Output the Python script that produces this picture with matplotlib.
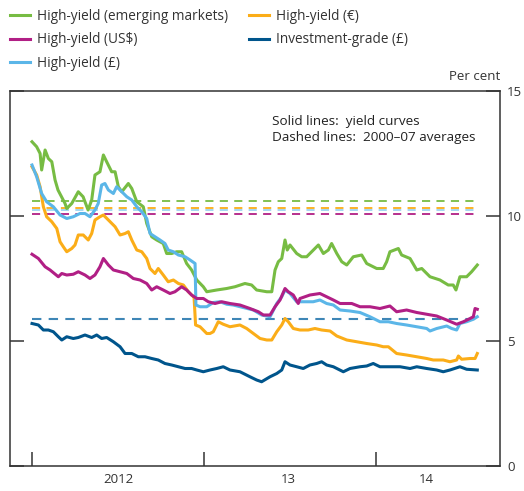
import matplotlib
matplotlib.use("Agg")
import matplotlib.pyplot as plt
import numpy as np

plt.rcParams['font.family'] = ['Open Sans', 'DejaVu Sans']

# dates as years since start of 2012, yields in per cent
em_t = [0.000, 0.027, 0.047, 0.056, 0.076, 0.095, 0.115, 0.134, 0.151, 0.192, 0.202, 0.231,
        0.269, 0.297, 0.326, 0.347, 0.366, 0.395, 0.415, 0.434, 0.463, 0.483, 0.502, 0.522,
        0.560, 0.580, 0.609, 0.647, 0.667, 0.696, 0.725, 0.763, 0.783, 0.812, 0.841, 0.870,
        0.899, 0.928, 0.958, 0.996, 1.016, 1.074, 1.132, 1.180, 1.238, 1.277, 1.306, 1.365,
        1.394, 1.413, 1.432, 1.452, 1.471, 1.484, 1.500, 1.539, 1.568, 1.597, 1.626, 1.665,
        1.694, 1.723, 1.742, 1.772, 1.801, 1.830, 1.868, 1.917, 1.946, 2.004, 2.042, 2.062,
        2.081, 2.130, 2.149, 2.198, 2.237, 2.266, 2.314, 2.372, 2.420, 2.449, 2.465, 2.488,
        2.527, 2.556, 2.589]
em_y = [12.97, 12.77, 12.5, 11.84, 12.64, 12.3, 12.17, 11.44, 11.04, 10.5, 10.3, 10.5,
        10.97, 10.77, 10.24, 10.64, 11.64, 11.77, 12.44, 12.17, 11.77, 11.77, 11.17, 10.97,
        11.3, 11.1, 10.57, 10.37, 9.7, 9.17, 9.04, 8.9, 8.5, 8.5, 8.57, 8.57,
        8.1, 7.84, 7.44, 7.17, 6.97, 7.04, 7.1, 7.17, 7.3, 7.24, 7.04, 6.97,
        6.97, 7.84, 8.17, 8.3, 9.04, 8.64, 8.84, 8.5, 8.37, 8.37, 8.57, 8.84,
        8.5, 8.64, 8.9, 8.5, 8.17, 8.04, 8.37, 8.44, 8.1, 7.9, 7.9, 8.17,
        8.57, 8.7, 8.44, 8.3, 7.84, 7.9, 7.57, 7.44, 7.24, 7.24, 7.04, 7.57,
        7.57, 7.77, 8.04]

us_t = [0.000, 0.037, 0.076, 0.105, 0.153, 0.173, 0.202, 0.240, 0.269, 0.308, 0.337, 0.366,
        0.395, 0.415, 0.444, 0.473, 0.512, 0.551, 0.589, 0.628, 0.667, 0.696, 0.725, 0.763,
        0.802, 0.831, 0.870, 0.899, 0.928, 0.958, 0.996, 1.025, 1.064, 1.103, 1.151, 1.209,
        1.267, 1.316, 1.345, 1.384, 1.413, 1.442, 1.471, 1.490, 1.519, 1.548, 1.558, 1.616,
        1.674, 1.713, 1.752, 1.791, 1.859, 1.907, 1.965, 2.023, 2.081, 2.120, 2.178, 2.237,
        2.295, 2.353, 2.411, 2.469, 2.508, 2.547, 2.566, 2.576, 2.589]
us_y = [8.47, 8.3, 7.97, 7.84, 7.57, 7.7, 7.64, 7.67, 7.77, 7.64, 7.5, 7.64,
        7.97, 8.3, 8.04, 7.84, 7.77, 7.7, 7.5, 7.44, 7.3, 7.04, 7.17, 7.04,
        6.9, 6.97, 7.17, 7.04, 6.84, 6.7, 6.7, 6.57, 6.5, 6.57, 6.5, 6.44,
        6.3, 6.17, 6.04, 6.04, 6.37, 6.64, 7.1, 6.97, 6.84, 6.5, 6.7, 6.84,
        6.9, 6.77, 6.64, 6.5, 6.5, 6.37, 6.37, 6.3, 6.4, 6.17, 6.24, 6.14,
        6.07, 6.0, 5.84, 5.67, 5.77, 5.9, 5.97, 6.3, 6.27]

gbp_t = [0.000, 0.027, 0.056, 0.085, 0.124, 0.163, 0.202, 0.240, 0.279, 0.308, 0.337, 0.366,
         0.385, 0.405, 0.424, 0.444, 0.473, 0.492, 0.522, 0.551, 0.580, 0.609, 0.638, 0.667,
         0.686, 0.715, 0.744, 0.773, 0.792, 0.822, 0.851, 0.890, 0.919, 0.948, 0.953, 0.977,
         1.016, 1.054, 1.093, 1.132, 1.170, 1.228, 1.287, 1.335, 1.384, 1.394, 1.423, 1.452,
         1.471, 1.500, 1.539, 1.577, 1.635, 1.674, 1.713, 1.752, 1.791, 1.849, 1.907, 1.965,
         2.023, 2.072, 2.120, 2.178, 2.237, 2.295, 2.314, 2.353, 2.411, 2.440, 2.469, 2.488,
         2.527, 2.566, 2.589]
gbp_y = [12.04, 11.57, 10.9, 10.57, 10.37, 10.04, 9.9, 9.97, 10.1, 10.1, 9.97, 10.24,
         10.5, 11.24, 11.3, 11.04, 10.9, 11.17, 10.97, 10.77, 10.64, 10.37, 10.17, 9.9,
         9.3, 9.17, 9.04, 8.9, 8.64, 8.57, 8.44, 8.37, 8.24, 8.1, 6.44, 6.37,
         6.37, 6.54, 6.57, 6.47, 6.44, 6.34, 6.24, 6.04, 5.97, 6.1, 6.5, 6.77,
         7.04, 6.9, 6.57, 6.57, 6.57, 6.64, 6.5, 6.44, 6.24, 6.2, 6.14, 5.97,
         5.77, 5.77, 5.7, 5.64, 5.57, 5.5, 5.4, 5.5, 5.6, 5.5, 5.44, 5.7,
         5.77, 5.87, 5.97]

eur_t = [0.000, 0.027, 0.047, 0.066, 0.085, 0.115, 0.144, 0.163, 0.182, 0.202, 0.231, 0.250,
         0.269, 0.298, 0.327, 0.347, 0.366, 0.395, 0.415, 0.444, 0.483, 0.512, 0.541, 0.560,
         0.580, 0.609, 0.638, 0.667, 0.686, 0.715, 0.734, 0.763, 0.792, 0.822, 0.851, 0.880,
         0.909, 0.934, 0.942, 0.951, 0.977, 1.016, 1.035, 1.054, 1.083, 1.112, 1.151, 1.209,
         1.248, 1.287, 1.326, 1.365, 1.394, 1.423, 1.452, 1.471, 1.490, 1.519, 1.558, 1.606,
         1.645, 1.684, 1.733, 1.772, 1.830, 1.888, 1.946, 2.004, 2.042, 2.072, 2.120, 2.178,
         2.237, 2.295, 2.333, 2.391, 2.430, 2.469, 2.479, 2.498, 2.547, 2.576, 2.589]
eur_y = [11.97, 11.64, 11.17, 10.37, 9.97, 9.77, 9.5, 8.97, 8.77, 8.57, 8.7, 8.84,
         9.24, 9.24, 9.04, 9.3, 9.84, 9.97, 10.04, 9.84, 9.57, 9.24, 9.3, 9.37,
         9.04, 8.64, 8.57, 8.3, 7.9, 7.7, 7.9, 7.64, 7.37, 7.44, 7.3, 7.24,
         6.97, 6.8, 6.77, 5.64, 5.57, 5.3, 5.3, 5.37, 5.77, 5.67, 5.57, 5.64,
         5.5, 5.3, 5.1, 5.04, 5.04, 5.37, 5.64, 5.9, 5.77, 5.5, 5.44, 5.44,
         5.5, 5.44, 5.4, 5.2, 5.04, 4.97, 4.9, 4.84, 4.77, 4.77, 4.5, 4.44,
         4.37, 4.3, 4.24, 4.24, 4.17, 4.24, 4.4, 4.27, 4.3, 4.3, 4.5]

ig_t = [0.000, 0.037, 0.066, 0.095, 0.124, 0.153, 0.173, 0.202, 0.240, 0.269, 0.308, 0.347,
        0.376, 0.405, 0.434, 0.473, 0.512, 0.541, 0.580, 0.618, 0.657, 0.696, 0.734, 0.773,
        0.812, 0.851, 0.890, 0.928, 0.958, 0.996, 1.035, 1.074, 1.112, 1.151, 1.209, 1.267,
        1.306, 1.335, 1.384, 1.423, 1.452, 1.471, 1.500, 1.539, 1.577, 1.616, 1.655, 1.684,
        1.713, 1.752, 1.810, 1.849, 1.907, 1.946, 1.984, 2.023, 2.081, 2.140, 2.198, 2.237,
        2.295, 2.353, 2.391, 2.430, 2.488, 2.527, 2.589]
ig_y = [5.7, 5.64, 5.44, 5.44, 5.37, 5.17, 5.04, 5.17, 5.1, 5.14, 5.24, 5.14,
        5.24, 5.1, 5.14, 4.97, 4.77, 4.5, 4.5, 4.37, 4.37, 4.3, 4.24, 4.1,
        4.04, 3.97, 3.9, 3.9, 3.84, 3.77, 3.84, 3.9, 3.97, 3.84, 3.77, 3.57,
        3.44, 3.37, 3.57, 3.7, 3.84, 4.17, 4.04, 3.97, 3.9, 4.04, 4.1, 4.17,
        4.04, 3.97, 3.77, 3.9, 3.97, 4.0, 4.1, 3.97, 3.97, 3.97, 3.9, 3.97,
        3.9, 3.84, 3.77, 3.84, 3.97, 3.87, 3.84]

# 2000-07 averages
avg_em, avg_eur, avg_gbp, avg_us, avg_ig = 10.61, 10.32, 10.26, 10.08, 5.87

c_em = '#77BC43'
c_us = '#B11F85'
c_gbp = '#5BB6E8'
c_eur = '#FBAD18'
c_ig = '#00558C'
c_ig_avg = '#3E86B6'

fig = plt.figure(figsize=(5.24, 4.91), dpi=100)
ax = fig.add_axes([10/524, 1-466/491, 490/524, 375/491])

start = 2012
t_end = start + 2.589
lw = 2.2
dash = (0, (4.5, 3.5))
ax.hlines(avg_em, start, t_end, color=c_em, lw=1.3, linestyles=dash)
ax.hlines(avg_eur, start, t_end, color=c_eur, lw=1.3, linestyles=dash)
ax.hlines(avg_gbp, start, t_end, color=c_gbp, lw=1.3, linestyles=dash, alpha=0.6)
ax.hlines(avg_us, start, t_end, color=c_us, lw=1.3, linestyles=dash)
ax.hlines(avg_ig, start, t_end, color=c_ig_avg, lw=1.5, linestyles=dash)

l1, = ax.plot(start + np.array(em_t), em_y, color=c_em, lw=lw)
l4, = ax.plot(start + np.array(eur_t), eur_y, color=c_eur, lw=lw)
l3, = ax.plot(start + np.array(gbp_t), gbp_y, color=c_gbp, lw=lw)
l2, = ax.plot(start + np.array(us_t), us_y, color=c_us, lw=lw)
l5, = ax.plot(start + np.array(ig_t), ig_y, color=c_ig, lw=lw)

ax.set_xlim(2011.872, 2014.721)
ax.set_ylim(0, 15)

for s in ax.spines.values():
    s.set_color('#333333')
    s.set_linewidth(1.1)

ax.set_xticks([2012, 2013, 2014])
ax.set_xticklabels([])
ax.set_xticks([2012.5, 2013.49, 2014.29], minor=True)
ax.set_xticklabels(['2012', '13', '14'], minor=True)
ax.tick_params(axis='x', which='major', direction='in', length=10, width=1.2, color='#444444')
ax.tick_params(axis='x', which='minor', length=0, pad=5, labelsize=9.5, labelcolor='#333333')

ax.set_yticks([0, 5, 10, 15])
ax.yaxis.tick_right()
ax.tick_params(axis='y', which='major', direction='in', length=10, width=1.2, color='#444444',
               left=True, right=True, labelleft=False, labelright=True, pad=5,
               labelsize=9.5, labelcolor='#333333')

fig.text(500/524, 1-76/491, 'Per cent', ha='right', va='center', fontsize=9.5, color='#333333')
ax.text(0.535, 0.935, 'Solid lines:  yield curves\nDashed lines:  2000\u201307 averages',
        transform=ax.transAxes, ha='left', va='top', fontsize=9.7, color='#222222',
        linespacing=1.25)

fig.legend([l1, l2, l3, l4, l5],
           ['High-yield (emerging markets)', 'High-yield (US$)', 'High-yield (\u00a3)',
            'High-yield (\u20ac)', 'Investment-grade (\u00a3)'],
           ncol=2, loc='upper left', bbox_to_anchor=(10/524, 1-9/491), frameon=False,
           borderpad=0, borderaxespad=0,
           fontsize=9.8, handlelength=1.5, handletextpad=0.5, columnspacing=1.5,
           labelspacing=0.62, labelcolor='#333333')

fig.savefig('out.png', dpi=100)
